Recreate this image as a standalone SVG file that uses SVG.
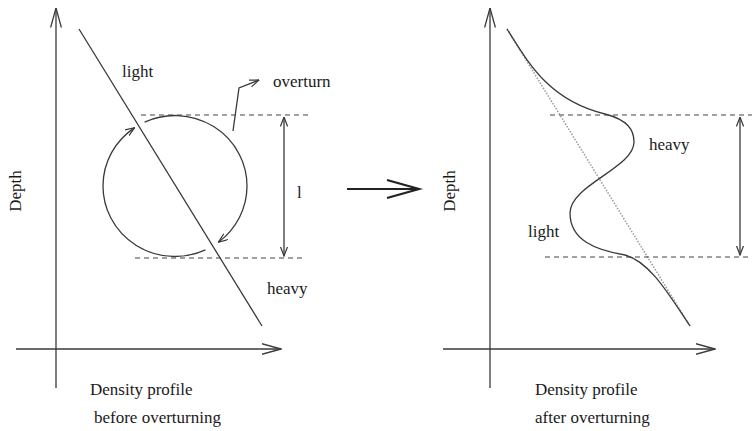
<svg xmlns="http://www.w3.org/2000/svg" width="754" height="431" viewBox="0 0 754 431">
<defs>
<style>
.ln{fill:none;stroke:#3a3a3a;stroke-width:1.3}
.dash{fill:none;stroke:#444;stroke-width:1.2;stroke-dasharray:5,4}
.dot{fill:none;stroke:#9a9a9a;stroke-width:1.5;stroke-dasharray:1.5,1.5}
.t{font-family:"Liberation Serif","Times New Roman",serif;font-size:17px;fill:#1a1a1a}
</style>
<marker id="axh" viewBox="0 0 20 12" refX="19.5" refY="6" markerWidth="20" markerHeight="12" markerUnits="userSpaceOnUse" orient="auto-start-reverse">
<path d="M0,0.6 L19.5,6 L0,11.4" fill="none" stroke="#3a3a3a" stroke-width="1.3"/>
</marker>
<marker id="sh" viewBox="0 0 10 8" refX="9.5" refY="4" markerWidth="10" markerHeight="8" markerUnits="userSpaceOnUse" orient="auto-start-reverse">
<path d="M0,0.4 L9.5,4 L0,7.6" fill="none" stroke="#3a3a3a" stroke-width="1.2"/>
</marker>
</defs>
<rect width="754" height="431" fill="#fff"/>

<g id="left-panel">
<g id="left-axes">
<line class="ln" x1="56" y1="388" x2="56" y2="8" marker-end="url(#axh)"/>
<line class="ln" x1="16" y1="349" x2="281" y2="349" marker-end="url(#axh)"/>
</g>
<line id="left-profile" class="ln" x1="79" y1="29" x2="262" y2="326"/>
<line class="dash" x1="141" y1="115" x2="308" y2="115"/>
<line class="dash" x1="135" y1="258" x2="305" y2="258"/>
<g id="left-overturn-circle">
<path class="ln" d="M144.6,122.1 A72,70.5 0 0 1 247,186 A72,70.5 0 0 1 218.3,242.3" marker-end="url(#sh)"/>
<path class="ln" d="M205.4,249.9 A72,70.5 0 0 1 103,186 A72,70.5 0 0 1 134.7,127.6" marker-end="url(#sh)"/>
</g>
<line id="left-dim" class="ln" x1="284" y1="117" x2="284" y2="256" stroke-width="1.1" marker-start="url(#sh)" marker-end="url(#sh)"/>
<polyline id="overturn-pointer" class="ln" points="233,131 239,88 259,80" stroke-width="1.1" marker-end="url(#sh)"/>
<text class="t" x="122" y="77">light</text>
<text class="t" x="273" y="87">overturn</text>
<text class="t" x="297" y="198">l</text>
<text class="t" x="267" y="294">heavy</text>
<text class="t" transform="translate(21,191) rotate(-90)" text-anchor="middle">Depth</text>
<text class="t" x="90" y="395">Density profile</text>
<text class="t" x="94" y="423">before overturning</text>
</g>

<g id="connectors">
<line x1="347" y1="189" x2="418" y2="189" stroke="#222" stroke-width="2.2"/>
<polyline points="387,180 419,189 387,198" fill="none" stroke="#222" stroke-width="2.2"/>
</g>

<g id="right-panel">
<g id="right-axes">
<line class="ln" x1="490" y1="388" x2="490" y2="8" marker-end="url(#axh)"/>
<line class="ln" x1="443" y1="349" x2="715" y2="349" marker-end="url(#axh)"/>
</g>
<line id="right-reference" class="dot" x1="507" y1="29" x2="690" y2="326"/>
<path id="right-profile" class="ln" d="M507,29 C528,62 548,100 605,114 C628,120 634,130 634,142 C634,168 570,185 570,213 C570,240 595,250 625,255 C650,262 668,293 690,326"/>
<line class="dash" x1="550" y1="115" x2="752" y2="115"/>
<line class="dash" x1="545" y1="257" x2="752" y2="257"/>
<line id="right-dim" class="ln" x1="740" y1="117" x2="740" y2="255" stroke-width="1.1" marker-start="url(#sh)" marker-end="url(#sh)"/>
<text class="t" x="649" y="150">heavy</text>
<text class="t" x="528" y="237">light</text>
<text class="t" transform="translate(455,191) rotate(-90)" text-anchor="middle">Depth</text>
<text class="t" x="535" y="395">Density profile</text>
<text class="t" x="535" y="423">after overturning</text>
</g>
</svg>
